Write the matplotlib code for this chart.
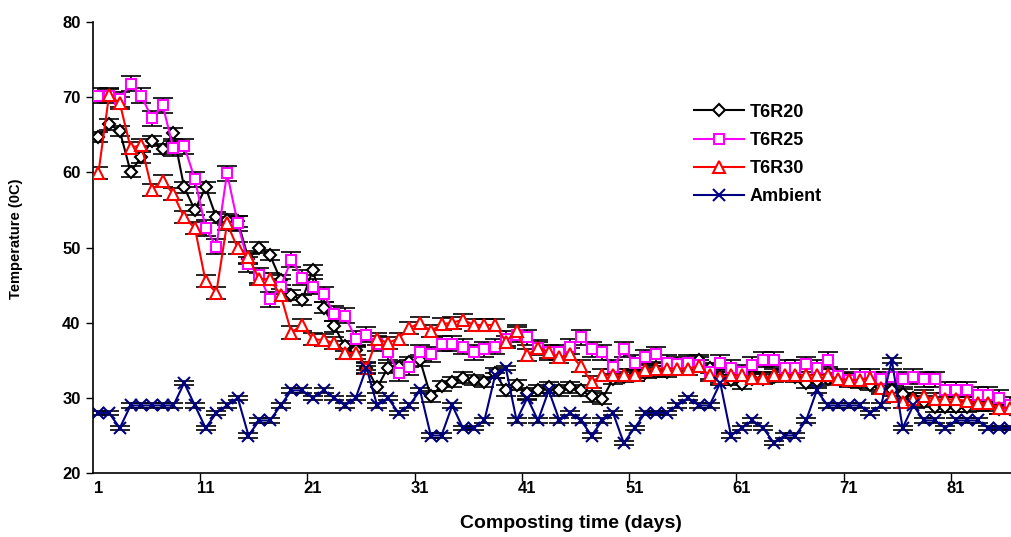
import matplotlib
matplotlib.use("Agg")
import matplotlib.pyplot as plt

plt.rcParams['font.family'] = ['Liberation Sans', 'DejaVu Sans']

days = list(range(1, 87))

t6r20 = [64.7, 66.4, 65.5, 60.1, 62.0, 64.2, 63.1, 65.2, 58.0, 55.0,
         58.0, 54.0, 53.7, 53.5, 48.5, 50.0, 49.0, 45.7, 43.7, 43.0,
         47.0, 42.0, 39.5, 36.9, 36.4, 34.0, 31.4, 34.0, 34.1, 34.8,
         35.0, 30.2, 31.6, 32.1, 32.7, 32.4, 32.1, 33.3, 31.0, 31.7,
         30.6, 31.0, 31.4, 31.0, 31.4, 31.0, 30.2, 29.9, 32.5, 32.8,
         33.0, 33.3, 33.5, 33.5, 34.0, 34.5, 35.0, 34.0, 32.8, 32.4,
         31.9, 32.5, 32.5, 32.8, 33.0, 32.8, 32.0, 32.3, 32.5, 32.5,
         32.3, 32.0, 31.7, 31.5, 31.0, 30.5, 30.0, 29.5, 28.8, 28.8,
         28.8, 28.8, 29.0, 29.0, 28.5, 28.5]

t6r25 = [70.2, 70.2, 69.7, 71.8, 70.2, 67.2, 68.9, 63.2, 63.5, 59.1,
         52.6, 50.1, 59.9, 53.2, 47.8, 46.3, 43.1, 44.8, 48.4, 46.0,
         44.8, 43.8, 41.2, 40.9, 37.9, 38.4, 37.2, 36.1, 33.3, 34.1,
         36.1, 35.8, 37.2, 37.2, 36.8, 36.1, 36.5, 36.8, 37.9, 38.4,
         38.1, 36.7, 36.1, 36.1, 36.8, 38.1, 36.5, 36.1, 34.1, 36.5,
         34.7, 35.4, 35.8, 34.7, 34.5, 34.7, 34.4, 33.5, 34.7, 34.0,
         33.4, 34.4, 35.1, 35.1, 34.0, 34.0, 34.5, 34.0, 35.1, 32.9,
         32.4, 32.8, 32.8, 32.5, 32.8, 32.5, 32.8, 32.5, 32.5, 31.1,
         31.1, 31.1, 30.4, 30.4, 30.0, 29.1]

t6r30 = [59.9, 70.3, 69.2, 63.3, 63.6, 57.7, 58.9, 57.1, 54.0, 52.6,
         45.5, 44.0, 53.2, 49.9, 48.7, 45.8, 45.8, 43.7, 38.7, 39.7,
         37.8, 37.7, 37.3, 36.0, 36.0, 34.0, 37.9, 37.3, 37.9, 39.3,
         40.0, 38.9, 39.8, 40.0, 40.4, 39.7, 39.7, 39.7, 37.5, 38.9,
         35.7, 36.7, 36.1, 35.4, 35.8, 34.2, 32.1, 33.0, 33.0, 33.0,
         33.0, 33.7, 33.9, 33.9, 33.9, 33.9, 34.2, 33.0, 32.7, 33.0,
         33.0, 32.7, 32.7, 33.0, 33.0, 33.0, 33.0, 33.0, 33.0, 32.5,
         32.4, 32.4, 32.7, 31.3, 30.2, 29.4, 29.8, 30.2, 29.8, 29.8,
         29.8, 29.6, 29.3, 29.3, 28.7, 28.7]

ambient = [28, 28, 26, 29, 29, 29, 29, 29, 32, 29,
           26, 28, 29, 30, 25, 27, 27, 29, 31, 31,
           30, 31, 30, 29, 30, 34, 29, 30, 28, 29,
           31, 25, 25, 29, 26, 26, 27, 33, 34, 27,
           30, 27, 31, 27, 28, 27, 25, 27, 28, 24,
           26, 28, 28, 28, 29, 30, 29, 29, 32, 25,
           26, 27, 26, 24, 25, 25, 27, 31, 29, 29,
           29, 29, 28, 29, 35, 26, 29, 27, 27, 26,
           27, 27, 27, 26, 26, 26]

err20 = 0.7
err25 = 1.0
err30 = 0.8
err_amb = 0.3

x_labels = [1, 11, 21, 31, 41, 51, 61, 71, 81]

fig = plt.figure(figsize=(10.11, 5.37), dpi=100)
ax = fig.add_axes([0.092, 0.119, 0.910, 0.840])

series = [
    (t6r20, err20, 'black', 'D', 6, 'T6R20'),
    (t6r25, err25, '#FF00FF', 's', 7, 'T6R25'),
    (t6r30, err30, '#FF0000', '^', 8, 'T6R30'),
]

for y, e, c, m, ms, lab in series:
    ax.errorbar(days, y, yerr=e, fmt='none', ecolor='black', elinewidth=1.2,
                capsize=7, capthick=1.2, zorder=2)
    ax.plot(days, y, color=c, lw=1.5, marker=m, ms=ms, mfc='white',
            mec=c, mew=1.5, label=lab, zorder=3)

ax.errorbar(days, ambient, yerr=err_amb, fmt='none', ecolor='black',
            elinewidth=1.2, capsize=7, capthick=1.2, zorder=2)
ax.plot(days, ambient, color='#000080', lw=1.5, marker='x', ms=8, mew=1.5,
        label='Ambient', zorder=3)

ax.set_xlim(0.5, 86.3)
ax.set_ylim(20, 80)
ax.set_yticks(range(20, 81, 10))
ax.set_xticks(x_labels)
ax.set_xticks([10.5 + 10 * i for i in range(8)], minor=True)
ax.tick_params(axis='x', which='major', length=0, pad=6)
ax.tick_params(axis='x', which='minor', length=6, width=1, direction='out')
ax.tick_params(axis='y', length=5, width=1, direction='out', pad=4)
for lbl in ax.get_xticklabels() + ax.get_yticklabels():
    lbl.set_fontsize(12)
    lbl.set_fontweight('bold')

for s in ['top', 'right']:
    ax.spines[s].set_visible(False)
for s in ['left', 'bottom']:
    ax.spines[s].set_linewidth(1.2)

ax.set_xlabel('Composting time (days)', fontsize=14, fontweight='bold')
ax.xaxis.set_label_coords(0.52, -0.093)
ax.set_ylabel('Temperature (0C)', fontsize=10.5, fontweight='bold')
ax.yaxis.set_label_coords(-0.076, 0.52)

ax.legend(loc='upper left', bbox_to_anchor=(0.645, 0.835), frameon=False,
          prop={'size': 13, 'weight': 'bold'}, handlelength=2.8,
          labelspacing=0.62, handletextpad=0.3, borderaxespad=0)

fig.savefig('out.png', dpi=100)
